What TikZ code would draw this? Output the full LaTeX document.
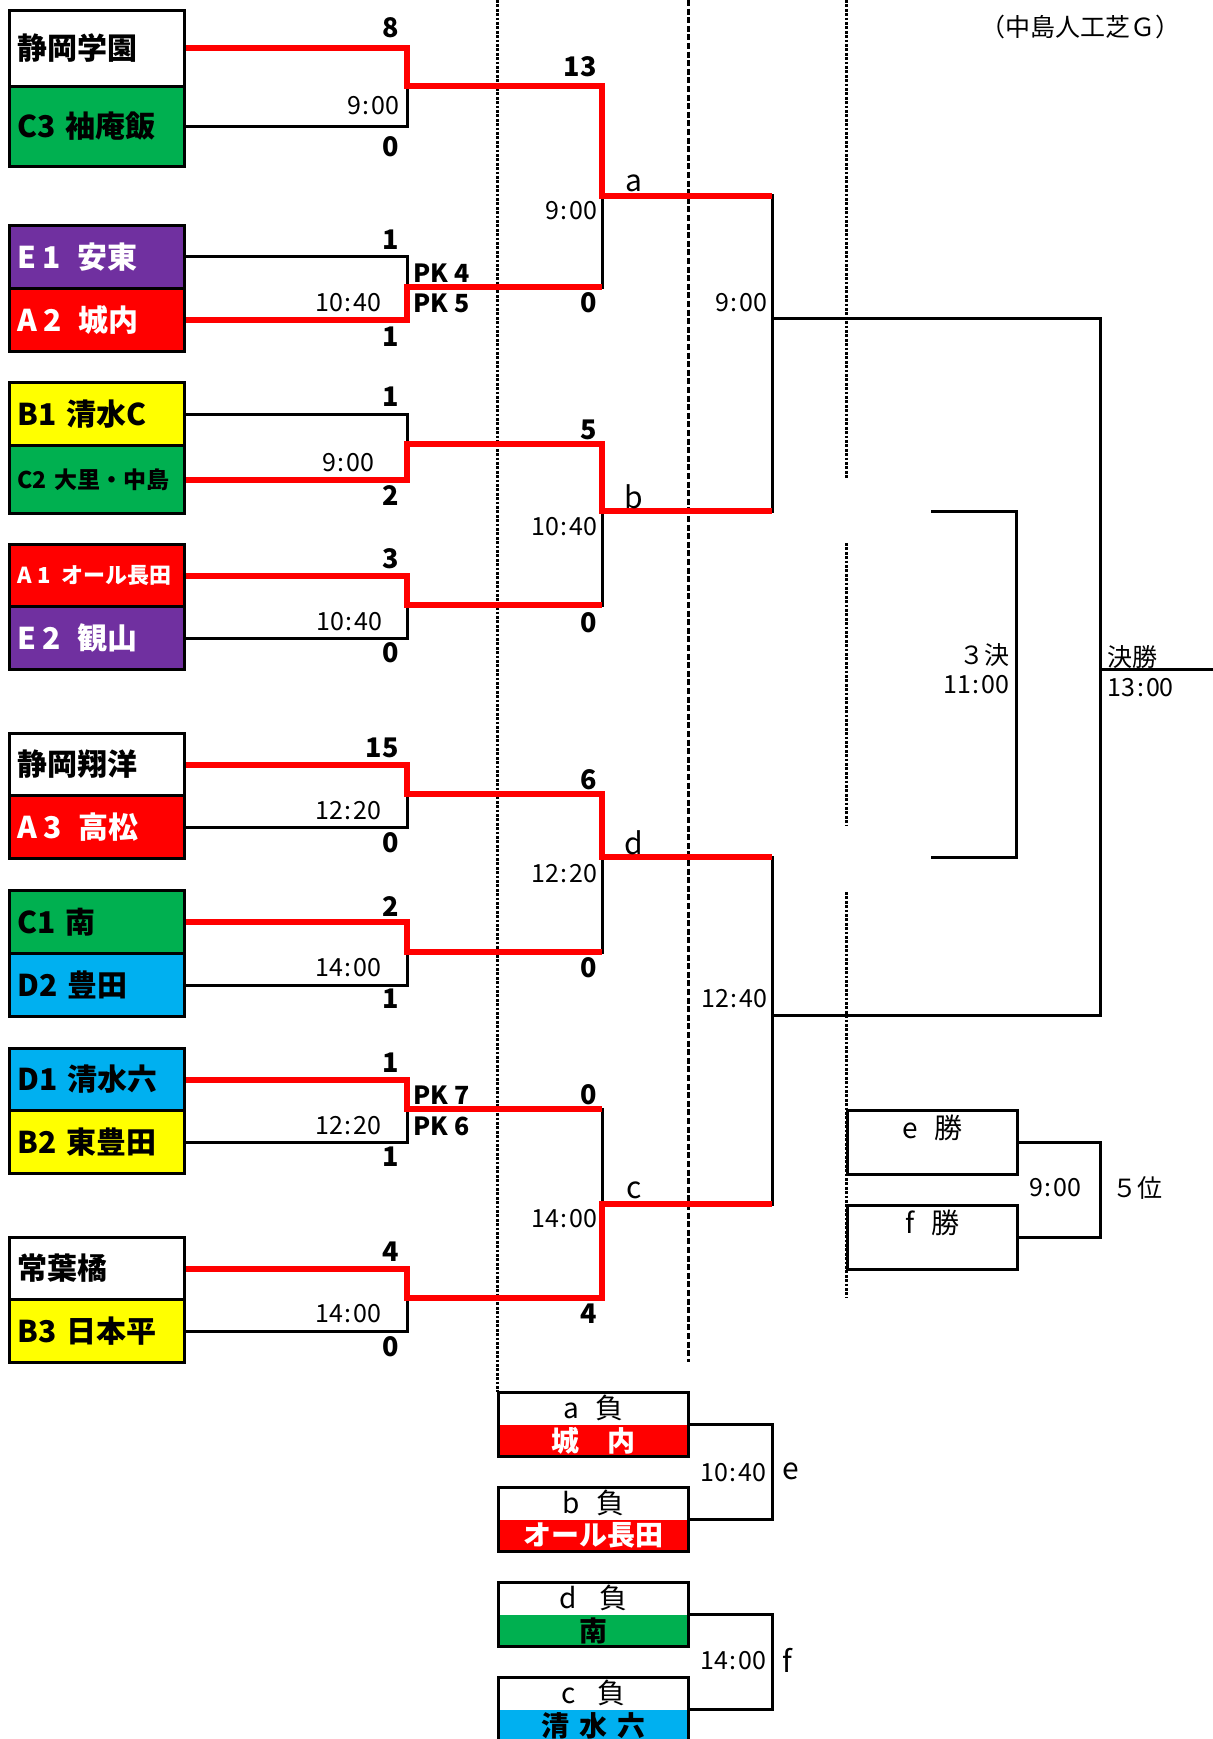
\documentclass[tikz,border=0pt]{standalone}
\usepackage{fontspec}
\setmainfont{Noto Sans CJK JP}
\definecolor{cellpurple}{HTML}{7030A0}
\definecolor{cellgreen}{HTML}{00B050}
\definecolor{cellblue}{HTML}{00B0F0}
\definecolor{cellyellow}{HTML}{FFFF00}
\definecolor{cellred}{HTML}{FF0000}

\begin{document}
\begin{tikzpicture}
[x=0.5pt,y=-0.5pt,%
  teamcell/.style={shape=rectangle,draw,line width=1.5pt,anchor=north west,
    inner xsep=4pt,inner ysep=0pt,text width=79.5pt,align=left},%
  loseline/.style={line width=1.5pt},%
  winline/.style={draw=cellred,line width=3pt},%
  dotcol/.style={line width=1.5pt,dash pattern=on 1.4pt off 0.8pt},%
  dashcol/.style={line width=1.5pt,dash pattern=on 3pt off 1.3pt},%
  score/.style={inner sep=0pt,anchor=east,font=\fontsize{13.5pt}{15pt}\selectfont\bfseries},%
  timelabel/.style={inner sep=0pt,anchor=east,font=\fontsize{12.5pt}{14pt}\selectfont},%
  pklabel/.style={inner sep=0pt,anchor=west,font=\fontsize{12.5pt}{14pt}\selectfont\bfseries},%
  roundlabel/.style={inner sep=0pt,font=\fontsize{15pt}{18pt}\selectfont},%
  notelabel/.style={inner sep=0pt,font=\fontsize{12.5pt}{15pt}\selectfont},%
  losehead/.style={shape=rectangle,anchor=north west,inner sep=0pt,
    minimum width=95pt,minimum height=16pt,font=\fontsize{14pt}{16pt}\selectfont},%
  losebody/.style={shape=rectangle,anchor=north west,inner sep=0pt,
    minimum width=95pt,minimum height=15.5pt,font=\fontsize{14pt}{16pt}\selectfont\bfseries},%
  boxframe/.style={draw,line width=1.5pt},%
  winbox/.style={shape=rectangle,draw,line width=1.5pt,anchor=north west,inner sep=0pt,
    minimum width=85pt,text height=14pt,text depth=18pt,font=\fontsize{14pt}{16pt}\selectfont}]
\useasboundingbox (0,0) rectangle (1213,1739);
%% column guides
\draw[dotcol] (497,0) -- (497,1392);
\draw[dashcol] (688,0) -- (688,1362);
\foreach \ya/\yb in {0/479, 543/825, 892/1298}
  \draw[dotcol] (846,\ya) -- (846,\yb);
%% team cells
\foreach \nm/\y/\h/\c/\t/\fs/\txt in {
  p1top/9/38/white/black/15/静岡学園, p1bot/85/40/cellgreen/black/15/C3 袖庵飯,
  p2top/224/31.5/cellpurple/white/15/E\hspace{0.2em}1\hspace{0.55em}安東,
  p2bot/287/31.5/cellred/white/15/A\hspace{0.2em}2\hspace{0.55em}城内,
  p3top/381/31.5/cellyellow/black/15/B1 清水C, p3bot/444/34/cellgreen/black/11.5/C2 大里・中島,
  p4top/543/31/cellred/white/11/A\hspace{0.25em}1\hspace{0.5em}オール長田,
  p4bot/605/31.5/cellpurple/white/15/E\hspace{0.2em}2\hspace{0.55em}観山,
  p5top/732/31/white/black/15/静岡翔洋, p5bot/794/31.5/cellred/white/15/A\hspace{0.2em}3\hspace{0.55em}高松,
  p6top/889/31.5/cellgreen/black/15/C1 南, p6bot/952/31.5/cellblue/black/15/D2 豊田,
  p7top/1047/31/cellblue/black/15/D1 清水六, p7bot/1109/31.5/cellyellow/black/15/B2 東豊田,
  p8top/1236/31/white/black/15/常葉橘, p8bot/1298/31.5/cellyellow/black/15/B3 日本平}
{
  \node[teamcell,minimum height=\h pt,fill=\c,text=\t,
    font=\fontsize{\fs pt}{\fs pt}\selectfont\bfseries] (\nm) at (8,\y) {\txt};
}
%% junctions
\foreach \nm/\x/\y in {m1/407/86, m2/407/287, m3/407/444, m4/407/605,
  m5/407/794, m6/407/952, m7/407/1109, m8/407/1298,
  ma/602/196, mb/602/511, md/602/857, mc/602/1204,
  s1/772/318, s2/772/1015, fin/1100/669, finend/1213/669,
  thirdtop/931/511, thirdbot/931/857, third/1016/684,
  fifth/1100/1188, ve/772/1471, vf/772/1660}
  \coordinate (\nm) at (\x,\y);
%% bracket lines
\foreach \p in {1,...,8}
{
  \draw[loseline] (p\p top.east) -| (m\p);
  \draw[loseline] (p\p bot.east) -| (m\p);
}
\foreach \a/\b/\c in {m1/m2/ma, m3/m4/mb, m5/m6/md, m7/m8/mc, ma/mb/s1, md/mc/s2, s1/s2/fin}
{
  \draw[loseline] (\a) -| (\c);
  \draw[loseline] (\b) -| (\c);
}
\draw[loseline] (fin) -- (finend);
\draw[loseline] (thirdtop) -| (third);
\draw[loseline] (thirdbot) -| (third);
%% winners
\draw[winline] (p1top.east) -| (m1) -| (ma) -- (ma -| s1);
\draw[winline] (p2bot.east) -| (m2) -- (m2 -| ma);
\draw[winline] (p3bot.east) -| (m3) -| (mb) -- (mb -| s1);
\draw[winline] (p4top.east) -| (m4) -- (m4 -| mb);
\draw[winline] (p5top.east) -| (m5) -| (md) -- (md -| s2);
\draw[winline] (p6top.east) -| (m6) -- (m6 -| md);
\draw[winline] (p7top.east) -| (m7) -- (m7 -| mc);
\draw[winline] (p8top.east) -| (m8) -| (mc) -- (mc -| s2);
%% scores and kick-off times
\foreach \i/\y/\s in {1/28/8, 2/240/1, 3/397/1, 4/559/3, 5/748/15, 6/907/2, 7/1063/1, 8/1252/4}
  \node[score] (st\i) at (399,\y) {\s};
\foreach \i/\y/\s in {1/147/0, 2/337/1, 3/496/2, 4/653/0, 5/843/0, 6/999/1, 7/1157/1, 8/1347/0}
  \node[score] (sb\i) at (399,\y) {\s};
\foreach \i/\x/\y/\t in {1/400/106/9\hspace{1pt}:\hspace{1pt}00, 2/382/303/10\hspace{1pt}:\hspace{1pt}40,
  3/375/463/9\hspace{1pt}:\hspace{1pt}00, 4/383/622/10\hspace{1pt}:\hspace{1pt}40,
  5/382/811/12\hspace{1pt}:\hspace{1pt}20, 6/382/968/14\hspace{1pt}:\hspace{1pt}00,
  7/382/1126/12\hspace{1pt}:\hspace{1pt}20, 8/382/1314/14\hspace{1pt}:\hspace{1pt}00}
  \node[timelabel] (kt\i) at (\x,\y) {\t};
\foreach \i/\y/\t in {1/273/PK 4, 2/303/PK 5, 3/1095/PK 7, 4/1126/PK 6}
  \node[pklabel] (pk\i) at (413,\y) {\t};
\foreach \i/\y/\s in {1/67/13, 2/303/0, 3/430/5, 4/623/0, 5/780/6, 6/968/0, 7/1095/0, 8/1314/4}
  \node[score] (sr\i) at (597,\y) {\s};
\foreach \i/\y/\t in {1/211/9\hspace{1pt}:\hspace{1pt}00, 2/527/10\hspace{1pt}:\hspace{1pt}40,
  3/874/12\hspace{1pt}:\hspace{1pt}20, 4/1219/14\hspace{1pt}:\hspace{1pt}00}
  \node[timelabel] (kr\i) at (598,\y) {\t};
\foreach \l/\y in {a/183, b/497, d/843, c/1190}
  \node[roundlabel] (lbl\l) at (634,\y) {\l};
\node[timelabel] (ks1) at (768,303) {9\hspace{1pt}:\hspace{1pt}00};
\node[timelabel] (ks2) at (768,999) {12\hspace{1pt}:\hspace{1pt}40};
%% third place and final
\node[notelabel,anchor=east] (thirdname) at (1010,655) {３決};
\node[timelabel] (thirdtime) at (1010,685) {11\hspace{1pt}:\hspace{1pt}00};
\node[notelabel,anchor=west] (finname) at (1107,657) {決勝};
\node[timelabel,anchor=west] (fintime) at (1107,688) {13\hspace{1pt}:\hspace{1pt}00};
\node[notelabel] (venue) at (1080,27) {（中島人工芝Ｇ）};
%% losers of the second round
\foreach \nm/\y/\c/\t/\head/\body in {
  la/1392/cellred/white/a\hspace{0.6em}負/城　内,
  lb/1487/cellred/white/b\hspace{0.6em}負/オール長田,
  ld/1582/cellgreen/black/d\hspace{0.8em}負/南,
  lc/1677/cellblue/black/c\hspace{0.8em}負/清\hspace{0.35em}水\hspace{0.35em}六}
{
  \node[losehead] (\nm head) at (498,\y) {\head};
  \node[losebody,fill=\c,text=\t] (\nm body) at (\nm head.south west) {\body};
  \draw[boxframe] (\nm head.north west) rectangle (\nm body.south east);
}
\draw[loseline] (labody.north east) -| (ve);
\draw[loseline] (lbbody.north east) -| (ve);
\draw[loseline] (ldbody.north east) -| (vf);
\draw[loseline] (lcbody.north east) -| (vf);
\node[timelabel] (ke) at (767,1473) {10\hspace{1pt}:\hspace{1pt}40};
\node[roundlabel,anchor=west] (lble) at (782,1471) {e};
\node[timelabel] (kf) at (767,1661) {14\hspace{1pt}:\hspace{1pt}00};
\node[roundlabel,anchor=west] (lblf) at (782,1660) {f};
%% fifth place
\node[winbox] (ewin) at (846,1109) {e\hspace{0.6em}勝};
\node[winbox] (fwin) at (846,1204) {f\hspace{0.6em}勝};
\draw[loseline] (ewin.east) -| (fifth);
\draw[loseline] (fwin.east) -| (fifth);
\node[timelabel] (kfifth) at (1082,1188) {9\hspace{1pt}:\hspace{1pt}00};
\node[notelabel,anchor=west] (fifthname) at (1112,1188) {５位};
\end{tikzpicture}
\end{document}
